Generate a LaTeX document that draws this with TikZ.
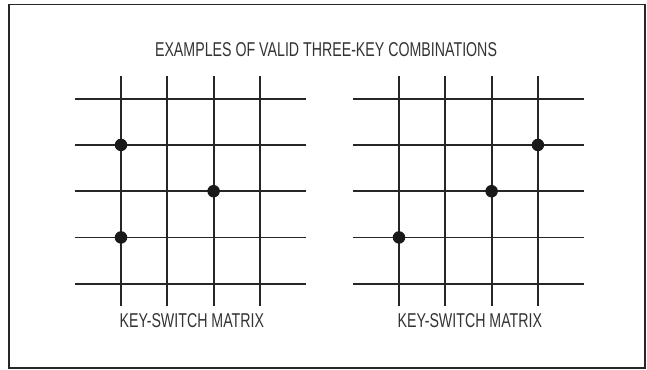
\documentclass[tikz,border=0pt]{standalone}
\usepackage{fontspec}
\setmainfont{Liberation Sans}[FakeStretch=0.71]
\usepackage{tikz}
\usetikzlibrary{positioning}
\tikzset{%
	wire/.style={%
		line width=1.8pt,
		black!85
	},
	key/.style={%
		circle,
		fill=black!90,
		inner sep=0pt,
		minimum size=12.5pt
	},
	caption/.style={%
		font=\fontsize{20}{24}\selectfont,
		text=black!80,
		inner sep=0pt,
		anchor=base
	}
}

\begin{document}
\begin{tikzpicture}[x=1pt, y=-1pt]
	\useasboundingbox (0,0) rectangle (647,369);
	\draw[line width=1.7pt, black!85] (9,4.5) rectangle (645,368);
	\node[caption] (title) at (326,56.7) {EXAMPLES OF VALID THREE-KEY COMBINATIONS};
	% left matrix
	\begin{scope}[shift={(121,98.7)}, x=46.3pt, y=-46.25pt]
		\foreach \r in {0,...,4} \draw[wire] (-1,\r) -- (4,\r);
		\foreach \c in {0,...,3} \draw[wire] (\c,-0.49) -- (\c,4.49);
		\node[key] (la) at (0,1) {};
		\node[key] (lb) at (2,2) {};
		\node[key] (lc) at (0,3) {};
		\node[caption] (lname) at (1.53,4.95) {KEY-SWITCH MATRIX};
	\end{scope}
	% right matrix
	\begin{scope}[shift={(399,98.7)}, x=46.3pt, y=-46.25pt]
		\foreach \r in {0,...,4} \draw[wire] (-1,\r) -- (4,\r);
		\foreach \c in {0,...,3} \draw[wire] (\c,-0.49) -- (\c,4.49);
		\node[key] (ra) at (3,1) {};
		\node[key] (rb) at (2,2) {};
		\node[key] (rc) at (0,3) {};
		\node[caption] (rname) at (1.53,4.95) {KEY-SWITCH MATRIX};
	\end{scope}
\end{tikzpicture}
\end{document}
